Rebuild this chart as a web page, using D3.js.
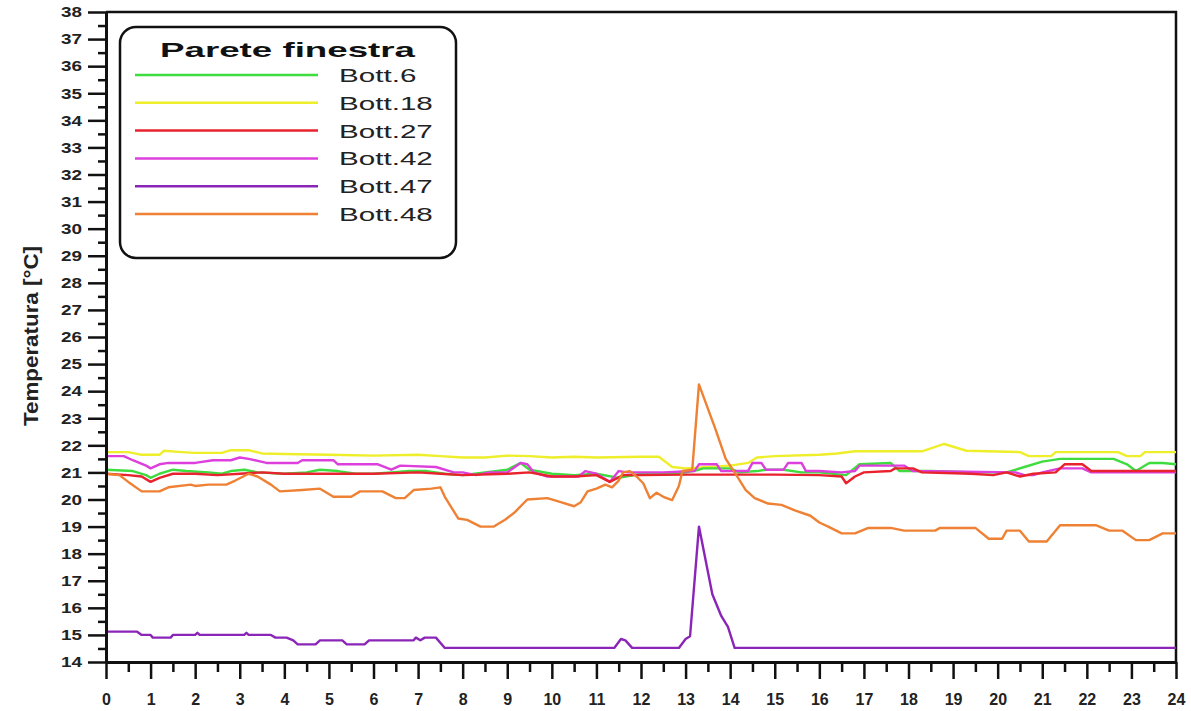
<!DOCTYPE html>
<html>
<head>
<meta charset="utf-8">
<script src="https://cdn.jsdelivr.net/npm/d3@7"></script>
<style>
  html, body { margin: 0; padding: 0; background: #fff; }
  svg { display: block; font-family: "Liberation Sans", Arial, sans-serif; }
</style>
</head>
<body>
<svg id="chart" width="1191" height="711"></svg>
<script>
// ---- Data (hour, °C) ----
const legendTitle = "Parete finestra";
const yTitle = "Temperatura [°C]";
const seriesNames = ["Bott.6", "Bott.18", "Bott.27", "Bott.42", "Bott.47", "Bott.48"];
const seriesColors = ["#3fdc3f", "#eeee2a", "#e8232d", "#dd3fdd", "#8a25b8", "#ee8133"];
const xTicks = d3.range(0, 25);
const yTicks = d3.range(14, 39);

const bott6 = [[0,21.1],[0.6,21.05],[0.9,20.9],[1.0,20.8],[1.2,20.95],[1.5,21.1],[1.8,21.05],[2.3,21.0],[2.6,20.95],[2.8,21.05],[3.1,21.1],[3.4,21.0],[4.0,20.95],[4.5,21.0],[4.8,21.1],[5.2,21.05],[5.6,20.95],[6.0,20.95],[6.4,21.0],[6.8,21.05],[7.2,21.05],[7.6,20.95],[8.0,20.9],[8.5,21.0],[9.0,21.1],[9.3,21.35],[9.5,21.1],[10.0,20.95],[10.5,20.9],[11.0,20.95],[11.5,20.8],[12.0,20.95],[12.5,20.95],[13.0,21.0],[13.3,21.1],[13.4,21.15],[14.0,21.15],[14.2,21.0],[14.6,21.05],[14.8,21.1],[15.2,21.1],[15.6,21.0],[16.0,21.0],[16.6,20.9],[16.9,21.3],[17.6,21.35],[17.8,21.05],[18.5,21.05],[19.5,21.0],[20.2,21.0],[20.6,21.2],[21.0,21.4],[21.4,21.5],[22.6,21.5],[22.9,21.3],[23.1,21.05],[23.4,21.35],[23.7,21.35],[24,21.3]];
const bott18 = [[0,21.75],[0.5,21.75],[0.8,21.65],[1.2,21.65],[1.3,21.8],[1.7,21.75],[2.0,21.72],[2.6,21.72],[2.8,21.82],[3.2,21.82],[3.5,21.7],[4.0,21.68],[5.0,21.65],[6.0,21.62],[7.0,21.65],[7.5,21.6],[8.0,21.55],[8.5,21.55],[9.0,21.62],[9.5,21.6],[10.0,21.55],[10.5,21.58],[11.0,21.55],[12.0,21.58],[12.4,21.58],[12.7,21.2],[13.0,21.15],[13.5,21.2],[14.0,21.25],[14.4,21.35],[14.6,21.55],[15.0,21.6],[16.0,21.65],[16.4,21.7],[16.8,21.78],[18.3,21.78],[18.8,22.05],[19.3,21.8],[20.5,21.75],[20.7,21.6],[21.2,21.6],[21.3,21.75],[22.7,21.75],[22.9,21.6],[23.2,21.6],[23.3,21.75],[24,21.75]];
const bott27 = [[0,20.95],[0.5,20.9],[0.8,20.85],[1.0,20.65],[1.2,20.8],[1.5,20.95],[2.0,20.95],[2.5,20.9],[3.0,20.95],[3.5,21.0],[4.0,20.95],[5.0,20.95],[6.0,20.95],[7.0,21.0],[7.5,20.95],[8.0,20.9],[9.0,20.95],[9.5,21.0],[10.0,20.85],[10.5,20.85],[11.0,20.9],[11.3,20.65],[11.6,20.9],[12.0,20.9],[13.0,20.92],[14.0,20.92],[15.0,20.92],[16.0,20.9],[16.5,20.85],[16.6,20.6],[16.8,20.85],[17.0,21.0],[17.6,21.05],[17.7,21.15],[18.1,21.15],[18.3,21.0],[19.4,20.95],[19.9,20.9],[20.2,21.0],[20.5,20.85],[20.8,20.95],[21.3,21.0],[21.5,21.3],[21.9,21.3],[22.1,21.05],[23.0,21.05],[24,21.05]];
const bott42 = [[0,21.6],[0.4,21.6],[0.6,21.45],[0.9,21.25],[1.0,21.15],[1.2,21.3],[1.4,21.35],[2.0,21.35],[2.4,21.45],[2.8,21.45],[3.0,21.55],[3.2,21.5],[3.6,21.35],[4.3,21.35],[4.4,21.45],[5.1,21.45],[5.2,21.3],[6.1,21.3],[6.4,21.1],[6.6,21.25],[7.4,21.2],[7.8,21.0],[8.0,21.0],[8.3,20.9],[8.6,21.0],[9.0,21.0],[9.3,21.35],[9.45,21.3],[9.6,21.0],[9.9,20.85],[10.6,20.85],[10.75,21.05],[11.0,20.95],[11.3,20.65],[11.5,21.05],[11.7,21.0],[12.5,21.0],[13.2,21.05],[13.3,21.3],[13.7,21.3],[13.8,21.05],[14.4,21.05],[14.5,21.35],[14.7,21.35],[14.8,21.1],[15.2,21.1],[15.3,21.35],[15.6,21.35],[15.7,21.05],[16.0,21.05],[16.5,21.0],[16.8,21.05],[16.9,21.25],[17.9,21.25],[18.1,21.05],[20.4,21.0],[20.6,20.9],[20.8,20.9],[21.0,21.0],[21.4,21.15],[21.9,21.15],[22.1,21.0],[24,21.0]];
const bott47 = [[0,15.12],[0.7,15.12],[0.8,15.0],[1.0,15.0],[1.05,14.9],[1.45,14.9],[1.5,15.0],[2.0,15.0],[2.05,15.08],[2.1,15.0],[3.1,15.0],[3.15,15.08],[3.2,15.0],[3.7,15.0],[3.8,14.9],[4.05,14.9],[4.2,14.8],[4.3,14.65],[4.7,14.65],[4.8,14.8],[5.3,14.8],[5.4,14.65],[5.8,14.65],[5.9,14.8],[6.9,14.8],[6.95,14.9],[7.05,14.8],[7.15,14.9],[7.4,14.9],[7.6,14.52],[11.4,14.52],[11.55,14.85],[11.65,14.8],[11.8,14.52],[12.85,14.52],[13.0,14.85],[13.1,14.95],[13.3,19.0],[13.6,16.5],[13.8,15.7],[13.95,15.3],[14.1,14.52],[24,14.52]];
const bott48 = [[0,20.95],[0.3,20.9],[0.5,20.65],[0.8,20.3],[1.2,20.3],[1.4,20.45],[1.9,20.55],[2.0,20.5],[2.3,20.55],[2.7,20.55],[2.9,20.7],[3.2,20.95],[3.4,20.85],[3.7,20.55],[3.9,20.3],[4.4,20.35],[4.8,20.4],[5.1,20.1],[5.5,20.1],[5.7,20.3],[6.2,20.3],[6.5,20.05],[6.7,20.05],[6.9,20.35],[7.3,20.4],[7.5,20.45],[7.6,20.1],[7.9,19.3],[8.1,19.25],[8.4,19.0],[8.7,19.0],[8.95,19.25],[9.15,19.5],[9.45,20.0],[9.9,20.05],[10.2,19.9],[10.5,19.75],[10.65,19.9],[10.8,20.3],[11.0,20.4],[11.2,20.55],[11.35,20.45],[11.5,20.7],[11.6,21.0],[11.75,21.05],[11.9,20.85],[12.05,20.6],[12.2,20.05],[12.35,20.25],[12.5,20.1],[12.7,19.98],[12.85,20.5],[12.93,21.05],[13.15,21.1],[13.3,24.25],[13.67,22.6],[13.9,21.5],[14.1,21.0],[14.35,20.35],[14.55,20.05],[14.85,19.85],[15.15,19.8],[15.45,19.6],[15.8,19.4],[16.0,19.15],[16.2,19.0],[16.5,18.75],[16.8,18.75],[17.1,18.95],[17.6,18.95],[17.9,18.85],[18.6,18.85],[18.7,18.95],[19.5,18.95],[19.8,18.55],[20.1,18.55],[20.2,18.85],[20.5,18.85],[20.7,18.45],[21.1,18.45],[21.4,19.05],[22.2,19.05],[22.5,18.85],[22.8,18.85],[23.1,18.5],[23.4,18.5],[23.7,18.75],[24,18.75]];

const seriesData = [bott6, bott18, bott27, bott42, bott47, bott48];
// drawing order (back to front)
const drawOrder = [1, 0, 3, 2, 4, 5];

// ---- Layout ----
const svg = d3.select("#chart");
const x = d3.scaleLinear().domain([0, 24]).range([106, 1176]);
const y = d3.scaleLinear().domain([14, 38]).range([662, 12]);

// Frame (top/right)
svg.append("path")
  .attr("d", `M${x(0)},${y(38)}H${x(24)}V${y(14)}`)
  .attr("fill", "none").attr("stroke", "#111").attr("stroke-width", 2.5);

// Lines
const line = d3.line().x(d => x(d[0])).y(d => y(d[1]));
const gLines = svg.append("g");
drawOrder.forEach(i => {
  gLines.append("path")
    .datum(seriesData[i])
    .attr("d", line)
    .attr("fill", "none")
    .attr("stroke", seriesColors[i])
    .attr("stroke-width", 2.4)
    .attr("stroke-linejoin", "round");
});

// Y axis
const yMinor = d3.range(14.5, 38, 1);
svg.append("g").attr("transform", `translate(${x(0)},0)`)
  .call(d3.axisLeft(y).tickValues(yMinor).tickSize(8).tickSizeOuter(0).tickFormat(""))
  .call(g => g.select(".domain").remove())
  .call(g => g.selectAll("line").attr("stroke", "#111").attr("stroke-width", 2.5));
const yAxisG = svg.append("g").attr("transform", `translate(${x(0)},0)`)
  .call(d3.axisLeft(y).tickValues(yTicks).tickSize(18).tickSizeOuter(0).tickPadding(6).tickFormat(d3.format("d")));
yAxisG.select(".domain").attr("stroke", "#111").attr("stroke-width", 3);
yAxisG.selectAll("line").attr("stroke", "#111").attr("stroke-width", 2.5);
yAxisG.selectAll("text")
  .attr("fill", "#222").attr("font-size", 15).attr("font-weight", "bold")
  .attr("font-family", "'Liberation Sans', Arial, sans-serif")
  .attr("textLength", 21).attr("lengthAdjust", "spacingAndGlyphs");

// X axis
const xMinor = d3.range(0.5, 24, 1);
svg.append("g").attr("transform", `translate(0,${y(14)})`)
  .call(d3.axisBottom(x).tickValues(xMinor).tickSize(10).tickSizeOuter(0).tickFormat(""))
  .call(g => g.select(".domain").remove())
  .call(g => g.selectAll("line").attr("stroke", "#111").attr("stroke-width", 2.5));
const xAxisG = svg.append("g").attr("transform", `translate(0,${y(14)})`)
  .call(d3.axisBottom(x).tickValues(xTicks).tickSize(17).tickSizeOuter(0).tickPadding(15).tickFormat(d3.format("d")));
xAxisG.select(".domain").attr("stroke", "#111").attr("stroke-width", 3);
xAxisG.selectAll("line").attr("stroke", "#111").attr("stroke-width", 2.5);
xAxisG.selectAll("text")
  .attr("fill", "#222").attr("font-size", 16).attr("font-weight", "bold")
  .attr("font-family", "'Liberation Sans', Arial, sans-serif");

// Y title
svg.append("text")
  .attr("transform", "translate(38,336) rotate(-90)")
  .attr("text-anchor", "middle")
  .attr("font-size", 20).attr("font-weight", "bold").attr("fill", "#222")
  .attr("textLength", 180).attr("lengthAdjust", "spacingAndGlyphs")
  .text(yTitle);

// Legend
const lg = svg.append("g");
lg.append("rect")
  .attr("x", 120).attr("y", 27).attr("width", 336).attr("height", 231)
  .attr("rx", 16).attr("ry", 16)
  .attr("fill", "#fff").attr("stroke", "#111").attr("stroke-width", 2.5);
lg.append("text")
  .attr("x", 160).attr("y", 57)
  .attr("font-size", 21).attr("font-weight", "bold").attr("fill", "#111")
  .attr("textLength", 255).attr("lengthAdjust", "spacingAndGlyphs")
  .text(legendTitle);
seriesNames.forEach((name, i) => {
  const ly = 75 + i * 27.8;
  lg.append("line")
    .attr("x1", 135).attr("x2", 318).attr("y1", ly).attr("y2", ly)
    .attr("stroke", seriesColors[i]).attr("stroke-width", 2.5);
  const t = lg.append("text")
    .attr("x", 339).attr("y", ly + 7)
    .attr("font-size", 18.5).attr("fill", "#222")
    .text(name);
  const w = t.node().getComputedTextLength();
  t.attr("textLength", w * 1.6).attr("lengthAdjust", "spacingAndGlyphs");
});
</script>
</body>
</html>
